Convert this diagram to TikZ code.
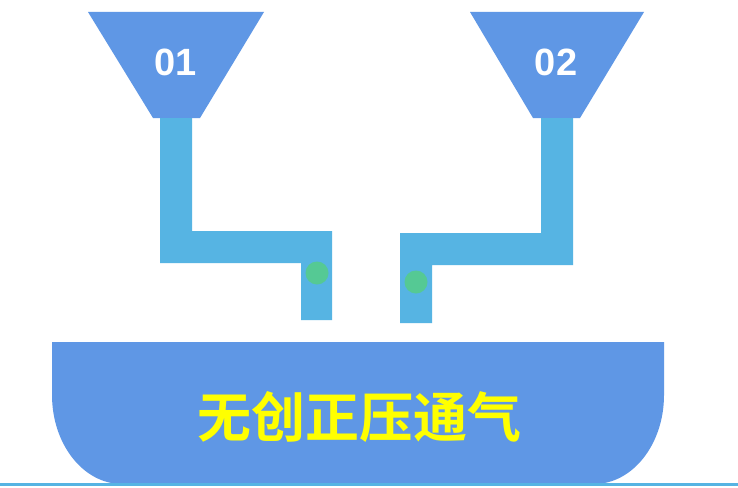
\documentclass[tikz,border=0pt]{standalone}
\usepackage{fontspec}
\setmainfont{Liberation Sans}
\newfontfamily\cjk{Noto Sans CJK SC}[BoldFont={Noto Sans CJK SC Bold}]
\definecolor{funblue}{HTML}{5F97E5}
\definecolor{pipeblue}{HTML}{56B4E3}
\definecolor{dotgreen}{HTML}{55C994}
\definecolor{txtyellow}{HTML}{FFFF00}
\begin{document}
\begin{tikzpicture}[x=1pt,y=-1pt,
  funnel/.style={fill=funblue,draw=none},
  pipe/.style={fill=pipeblue,draw=none},
  dot/.style={circle,fill=dotgreen,draw=none,minimum size=23pt,inner sep=0pt},
  numlabel/.style={text=white,font=\fontsize{38}{40}\selectfont\bfseries},
  bowltext/.style={text=txtyellow,font=\cjk\bfseries\fontsize{54}{58}\selectfont}]
\useasboundingbox (0,0) rectangle (738,487);
\fill[white] (0,0) rectangle (738,487);
% funnels
\fill[funnel] (88,12) -- (264,12) -- (200,118) -- (153,118) -- cycle;
\fill[funnel] (470,12) -- (644,12) -- (580,118) -- (533,118) -- cycle;
\node[numlabel] (n1) at (176,62) {01};
\node[numlabel] (n2) at (556,62) {02};
% pipes
\fill[pipe] (160,118) -- (192,118) -- (192,231) -- (332,231) -- (332,320) -- (301,320) -- (301,263) -- (160,263) -- cycle;
\fill[pipe] (541,118) -- (573,118) -- (573,265) -- (432,265) -- (432,323) -- (400,323) -- (400,233) -- (541,233) -- cycle;
\node[dot] (d1) at (317,273) {};
\node[dot] (d2) at (416,282) {};
% bowl
\fill[funnel] (52,342) -- (664,342) -- (664,395)
  arc[start angle=0,end angle=90,x radius=70,y radius=89] -- (122,484)
  arc[start angle=90,end angle=180,x radius=70,y radius=89] -- cycle;
\node[bowltext] (t) at (359,417) {无创正压通气};
% base line
\coordinate (l0) at (0,484);
\coordinate (l1) at (738,484);
\draw[pipeblue,line width=3pt] (l0) -- (l1);
\end{tikzpicture}
\end{document}
